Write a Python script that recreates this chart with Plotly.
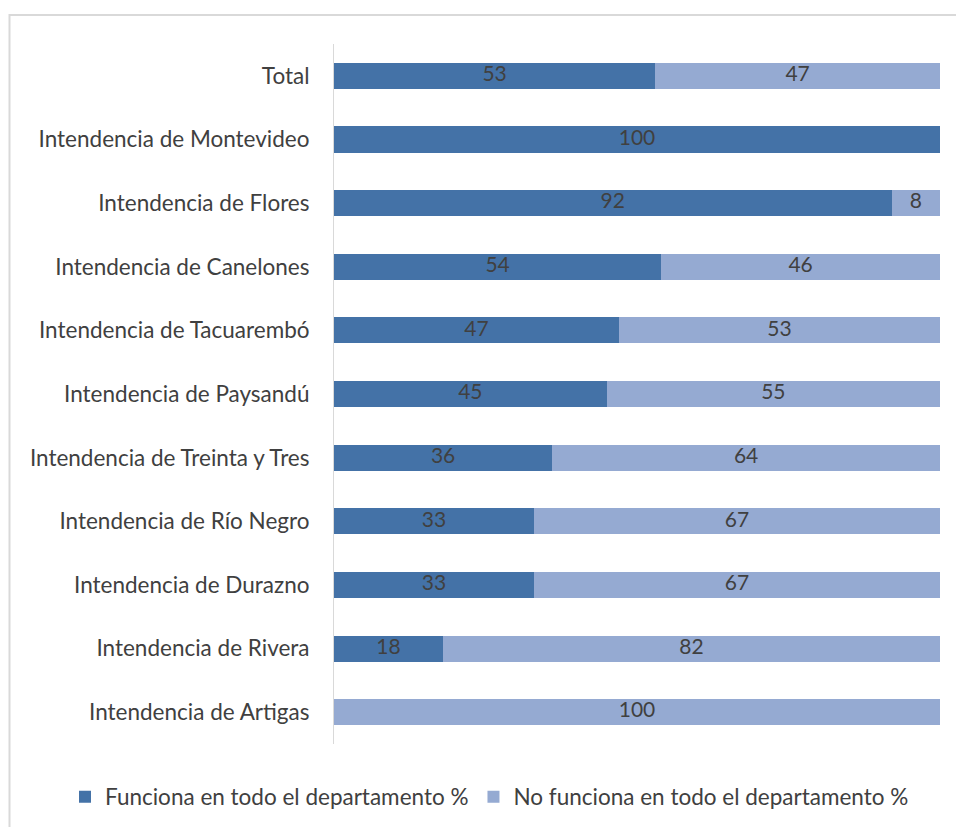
import plotly.graph_objects as go

categories = ["Total", "Intendencia de Montevideo", "Intendencia de Flores",
              "Intendencia de Canelones", "Intendencia de Tacuarembó",
              "Intendencia de Paysandú", "Intendencia de Treinta y Tres",
              "Intendencia de Río Negro", "Intendencia de Durazno",
              "Intendencia de Rivera", "Intendencia de Artigas"]
funciona = [53, 100, 92, 54, 47, 45, 36, 33, 33, 18, 0]
no_funciona = [47, 0, 8, 46, 53, 55, 64, 67, 67, 82, 100]

DARK = "#4472A7"
LIGHT = "#95AAD2"
TXT = "#404040"
FONT = "Lato"
FS = 22.5
FS_LBL = 21

def labels(vals):
    return [str(v) if v else "" for v in vals]

fig = go.Figure()
fig.add_trace(go.Bar(
    y=categories, x=funciona, orientation="h", name="Funciona en todo el departamento %",
    marker=dict(color=DARK, line=dict(width=0)), textposition="none"))
fig.add_trace(go.Bar(
    y=categories, x=no_funciona, orientation="h", name="No funciona en todo el departamento %",
    marker=dict(color=LIGHT, line=dict(width=0)), textposition="none"))

# data labels centred in each segment
mid1 = [f / 2 for f in funciona]
mid2 = [f + n / 2 for f, n in zip(funciona, no_funciona)]
for mids, vals in ((mid1, funciona), (mid2, no_funciona)):
    fig.add_trace(go.Scatter(
        y=categories, x=mids, mode="text", text=labels(vals), showlegend=False,
        textposition="middle center", hoverinfo="skip",
        textfont=dict(color=TXT, size=FS_LBL, family=FONT)))

W, H = 956, 827
L, R, T, B = 334, 16, 44, 83
ph = H - T - B
def py(p):
    return (H - B - p) / ph
pw = W - L - R
def px(p):
    return (p - L) / pw

n = len(categories)
fig.update_layout(
    width=W, height=H, barmode="stack", bargap=0.59,
    margin=dict(l=L, r=R, t=T, b=B, autoexpand=False),
    paper_bgcolor="white", plot_bgcolor="white",
    font=dict(family=FONT, size=FS, color=TXT),
    xaxis=dict(range=[0, 100], visible=False, fixedrange=True),
    yaxis=dict(type="category", range=[n - 0.5, -0.5], autorange=False,
               showline=True, linecolor="#d9d9d9", linewidth=1,
               showgrid=False, ticks="", ticklabelstandoff=19, fixedrange=True,
               tickfont=dict(family=FONT, size=FS, color=TXT)),
    legend=dict(orientation="h", x=px(65), xanchor="left", y=py(797), yanchor="middle",
                font=dict(family=FONT, size=FS, color=TXT), itemwidth=30,
                traceorder="normal", bgcolor="rgba(0,0,0,0)"),
    shapes=[dict(type="rect", xref="paper", yref="paper",
                 x0=px(9.5), x1=px(970), y0=py(840), y1=py(15),
                 line=dict(color="#d9d9d9", width=2), fillcolor="rgba(0,0,0,0)",
                 layer="below")],
)

fig.write_html("out.html", config={"displayModeBar": False},
               post_script="document.body.style.margin='0';")
